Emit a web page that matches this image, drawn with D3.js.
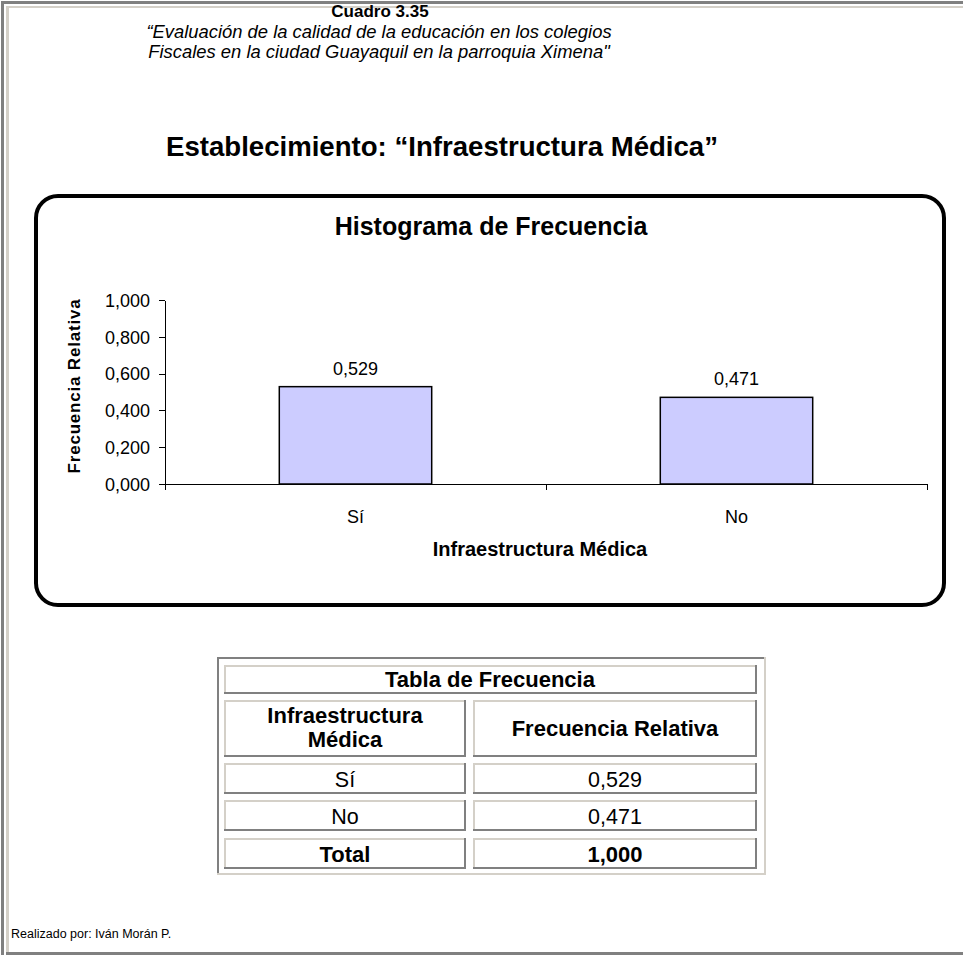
<!DOCTYPE html>
<html lang="es">
<head>
    <meta charset="UTF-8">
    <title>Histograma de Frecuencia - Infraestructura Médica</title>
    <script src="https://d3js.org/d3.v7.min.js"></script>
    <style>
        body {
            margin: 0;
            background: #ffffff;
            font-family: 'Liberation Sans', Arial, sans-serif;
        }
        svg text { fill: #000; }
        .axis path, .axis line { stroke: #000; stroke-width: 1px; shape-rendering: crispEdges; }
        .axis text { font-size: 18px; font-family: 'Liberation Sans', Arial, sans-serif; }
    </style>
</head>
<body>
<div id="page"></div>
<script>
    // chart data
    const categories = ["Sí", "No"];
    const values = [0.529, 0.471];
    const yTicks = [0, 0.2, 0.4, 0.6, 0.8, 1.0];
    const totalValue = 1.000;

    const tableTitle = "Tabla de Frecuencia";
    const tableHeaders = [["Infraestructura", "Médica"], ["Frecuencia Relativa"]];
    const totalLabel = "Total";

    const locale = d3.formatLocale({ decimal: ",", thousands: ".", grouping: [3], currency: ["$", ""] });
    const fmt = locale.format(".3f");

    const W = 963, H = 955;
    const svg = d3.select("#page").append("svg")
        .attr("width", W)
        .attr("height", H);

    // page frame (grey + light bevel)
    svg.append("rect").attr("x", 1).attr("y", 1).attr("width", W - 1).attr("height", 3).attr("fill", "#808080");
    svg.append("rect").attr("x", 1).attr("y", 1).attr("width", 3).attr("height", H - 1).attr("fill", "#808080");
    svg.append("rect").attr("x", 6).attr("y", 6).attr("width", W - 6).attr("height", 2).attr("fill", "#d4d0c8");
    svg.append("rect").attr("x", 6).attr("y", 6).attr("width", 3).attr("height", H - 6).attr("fill", "#d4d0c8");
    svg.append("rect").attr("x", 6).attr("y", H - 3).attr("width", W - 6).attr("height", 3).attr("fill", "#808080");

    // headings
    svg.append("text").attr("x", 380).attr("y", 17).attr("text-anchor", "middle")
        .style("font-size", "17px").style("font-weight", "bold").text("Cuadro 3.35");
    svg.append("text").attr("x", 379).attr("y", 38).attr("text-anchor", "middle")
        .style("font-size", "18.4px").style("font-style", "italic")
        .text("“Evaluación de la calidad de la educación en los colegios");
    svg.append("text").attr("x", 379).attr("y", 58).attr("text-anchor", "middle")
        .style("font-size", "18.4px").style("font-style", "italic")
        .text("Fiscales en la ciudad Guayaquil en la parroquia Ximena\"");
    svg.append("text").attr("x", 442).attr("y", 156).attr("text-anchor", "middle")
        .style("font-size", "27.6px").style("font-weight", "bold")
        .text("Establecimiento: “Infraestructura Médica”");

    // chart frame
    svg.append("rect")
        .attr("x", 36).attr("y", 196).attr("width", 908).attr("height", 409)
        .attr("rx", 22).attr("ry", 22)
        .attr("fill", "#fff").attr("stroke", "#000").attr("stroke-width", 4);

    svg.append("text").attr("x", 491).attr("y", 235).attr("text-anchor", "middle")
        .style("font-size", "25px").style("font-weight", "bold")
        .text("Histograma de Frecuencia");

    // scales
    const x0 = 165, x1 = 927, yBase = 484, yTop = 300;
    const y = d3.scaleLinear().domain([0, 1]).range([yBase, yTop]);
    const x = d3.scaleBand().domain(categories).range([x0, x1])
        .paddingInner(0.6).paddingOuter(0.3);
    const xEdge = d3.scaleLinear().domain([0, categories.length]).range([x0, x1]);

    const g = svg.append("g");

    // y axis
    g.append("g").attr("class", "axis")
        .attr("transform", `translate(${x0},0)`)
        .call(d3.axisLeft(y).tickValues(yTicks).tickFormat(fmt).tickSize(6).tickSizeOuter(0).tickPadding(9))
        .call(a => a.selectAll("text").attr("dy", "0.35em"));

    // x axis with ticks on category boundaries
    g.append("g").attr("class", "axis")
        .attr("transform", `translate(0,${yBase})`)
        .call(d3.axisBottom(xEdge).tickValues(d3.range(categories.length + 1)).tickFormat("").tickSize(6).tickSizeOuter(0));

    // bars
    const data = categories.map((c, i) => ({ cat: c, val: values[i] }));
    g.selectAll(".bar").data(data).enter().append("rect")
        .attr("class", "bar")
        .attr("x", d => x(d.cat))
        .attr("y", d => y(d.val))
        .attr("width", x.bandwidth())
        .attr("height", d => yBase - y(d.val))
        .attr("fill", "#ccccff")
        .attr("stroke", "#000")
        .attr("stroke-width", 1.5);

    g.selectAll(".val").data(data).enter().append("text")
        .attr("x", d => x(d.cat) + x.bandwidth() / 2)
        .attr("y", d => y(d.val) - 12)
        .attr("text-anchor", "middle")
        .style("font-size", "18px")
        .text(d => fmt(d.val));

    g.selectAll(".cat").data(data).enter().append("text")
        .attr("x", d => x(d.cat) + x.bandwidth() / 2)
        .attr("y", 523)
        .attr("text-anchor", "middle")
        .style("font-size", "18px")
        .text(d => d.cat);

    svg.append("text").attr("x", 540).attr("y", 556).attr("text-anchor", "middle")
        .style("font-size", "20px").style("font-weight", "bold")
        .text("Infraestructura Médica");

    svg.append("text")
        .attr("transform", `translate(80,386) rotate(-90)`)
        .attr("text-anchor", "middle")
        .style("font-size", "17px").style("font-weight", "bold").style("letter-spacing", "0.8px")
        .text("Frecuencia Relativa");

    // frequency table
    const tb = svg.append("g");
    const light = "#d4d0c8", dark = "#808080";
    function bevel(x, y, w, h, tl, br, t) {
        tb.append("rect").attr("x", x).attr("y", y).attr("width", w).attr("height", h).attr("fill", "#fff");
        tb.append("rect").attr("x", x).attr("y", y).attr("width", w).attr("height", t).attr("fill", tl);
        tb.append("rect").attr("x", x).attr("y", y).attr("width", t).attr("height", h).attr("fill", tl);
        tb.append("rect").attr("x", x).attr("y", y + h - t).attr("width", w).attr("height", t).attr("fill", br);
        tb.append("rect").attr("x", x + w - t).attr("y", y).attr("width", t).attr("height", h).attr("fill", br);
    }
    bevel(217, 657, 549, 218, dark, light, 2);

    const c1 = [224, 466], c2 = [473, 757];
    const rows = [[763, 794], [800, 831], [838, 869]];

    bevel(224, 665, 533, 29, light, dark, 2);
    bevel(c1[0], 700, c1[1] - c1[0], 57, light, dark, 2);
    bevel(c2[0], 700, c2[1] - c2[0], 57, light, dark, 2);
    rows.forEach(r => {
        bevel(c1[0], r[0], c1[1] - c1[0], r[1] - r[0], light, dark, 2);
        bevel(c2[0], r[0], c2[1] - c2[0], r[1] - r[0], light, dark, 2);
    });

    const m1 = (c1[0] + c1[1]) / 2, m2 = (c2[0] + c2[1]) / 2;
    tb.append("text").attr("x", 490).attr("y", 687).attr("text-anchor", "middle")
        .style("font-size", "22px").style("font-weight", "bold").text(tableTitle);
    tableHeaders[0].forEach((t, i) => {
        tb.append("text").attr("x", m1).attr("y", 723 + i * 24).attr("text-anchor", "middle")
            .style("font-size", "22px").style("font-weight", "bold").text(t);
    });
    tb.append("text").attr("x", m2).attr("y", 736).attr("text-anchor", "middle")
        .style("font-size", "22px").style("font-weight", "bold").text(tableHeaders[1][0]);

    data.forEach((d, i) => {
        const yy = (rows[i][0] + rows[i][1]) / 2 + 8;
        tb.append("text").attr("x", m1).attr("y", yy).attr("text-anchor", "middle")
            .style("font-size", "21.5px").text(d.cat);
        tb.append("text").attr("x", m2).attr("y", yy).attr("text-anchor", "middle")
            .style("font-size", "21.5px").text(fmt(d.val));
    });
    const ty = (rows[2][0] + rows[2][1]) / 2 + 8;
    tb.append("text").attr("x", m1).attr("y", ty).attr("text-anchor", "middle")
        .style("font-size", "22px").style("font-weight", "bold").text(totalLabel);
    tb.append("text").attr("x", m2).attr("y", ty).attr("text-anchor", "middle")
        .style("font-size", "22px").style("font-weight", "bold").text(fmt(totalValue));

    svg.append("text").attr("x", 11).attr("y", 938)
        .style("font-size", "12.5px").text("Realizado por: Iván Morán P.");
</script>
</body>
</html>
